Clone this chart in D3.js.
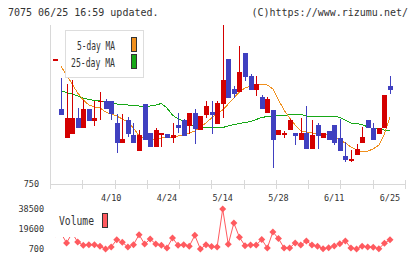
<!DOCTYPE html>
<html>
<head>
<meta charset="utf-8">
<script src="https://cdn.jsdelivr.net/npm/d3@7"></script>
<style>
  body { margin: 0; background: #fff; }
  svg { display: block; }
  text { font-family: "DejaVu Sans Mono", monospace; fill: #333; }
</style>
</head>
<body>
<svg id="chart" width="420" height="259"></svg>
<script>
// daily prices, first entry is the day before the window (only its close shows)
const openP  = [1000, 901, 843, 851, 883, 863, 901, 877, 915, 917, 917, 873, 833, 878, 848, 817, 911, 853, 825, 850, 851,
  843, 868, 878, 867, 893, 858, 888, 895, 870, 910, 1000, 940, 935, 1013, 967, 939, 925, 893, 898, 848,
  848, 859, 853, 839, 853, 820, 868, 843, 856, 868, 843, 806, 799, 809, 833, 878, 863, 851, 863, 946];
const highP  = [1000, 963, 950, 959, 902, 919, 901, 916, 935, 920, 917, 891, 890, 884, 873, 858, 911, 853, 863, 852, 851,
  873, 893, 881, 893, 901, 886, 917, 917, 916, 1068, 1000, 947, 1026, 1013, 970, 966, 928, 925, 898, 859,
  857, 881, 853, 883, 906, 878, 873, 853, 856, 868, 881, 835, 818, 830, 865, 878, 873, 863, 928, 966];
const lowP   = [1000, 888, 843, 851, 863, 863, 877, 867, 878, 901, 878, 813, 833, 845, 833, 817, 839, 825, 825, 825, 843,
  833, 853, 846, 851, 831, 858, 883, 851, 870, 882, 923, 923, 935, 957, 938, 926, 901, 893, 783, 848,
  843, 859, 829, 839, 820, 820, 820, 843, 838, 828, 816, 795, 795, 809, 833, 863, 839, 851, 863, 931];
const closeP = [1000, 888, 883, 883, 863, 901, 877, 883, 917, 901, 891, 833, 840, 851, 833, 848, 839, 825, 859, 852, 843,
  848, 863, 846, 893, 861, 886, 906, 888, 913, 958, 923, 931, 975, 965, 938, 950, 901, 920, 838, 859,
  853, 878, 847, 853, 820, 848, 847, 853, 838, 833, 816, 798, 800, 821, 845, 863, 839, 863, 928, 938];

const ma5  = [null, 985, 968, 950, 932, 918, 908, 904, 902, 894, 890, 886, 880, 874, 862, 846, 842, 840, 840, 842, 844,
  844, 846, 848, 852, 856, 864, 872, 882, 890, 898, 910, 922, 934, 942, 946, 948, 950, 948, 940, 918,
  898, 882, 868, 856, 854, 852, 852, 852, 848, 844, 838, 832, 824, 818, 814, 816, 820, 828, 850, 884];
const ma25 = [null, 936, 933, 930, 926, 922, 919, 917, 916, 914, 912, 910, 909, 908, 907, 906, 906, 906, 908, 911, 902,
  888, 880, 876, 869, 866, 864, 863, 863, 863, 863, 866, 869, 871, 873, 875, 879, 883, 885, 886, 887,
  886, 889, 889, 889, 886, 886, 886, 886, 886, 886, 883, 878, 872, 871, 869, 864, 861, 861, 858, 856];

const volume = [15000, 15800, 6400, 15800, 7300, 4200, 4800, 4800, 3300, 700, 2600, 9500, 7000, 2600, 4800, 14200, 5400,
  10100, 5400, 4200, 1700, 11100, 4200, 4800, 3300, 13600, 700, 4800, 3100, 2600, 38500, 5100, 25300, 11800,
  3800, 4500, 4500, 9700, 1700, 16800, 10600, 1700, 1700, 6400, 4500, 8300, 4500, 3300, 1000, 1900, 3500,
  5600, 8300, 1700, 700, 3300, 2600, 2400, 1000, 6100, 9500];

const dateLabels = ["4/10", "4/24", "5/14", "5/28", "6/11", "6/25"];
const dateIndex = [10, 20, 30, 40, 50, 60];
const priceTicks = [750];
const volTicks = [38500, 19600, 700];

const svg = d3.select("#chart");

const x = d3.scaleLinear().domain([0, openP.length - 1]).range([55.4, 390]);
const y = d3.scaleLinear().domain([750, 1068]).range([184, 25]);
const yv = d3.scaleLinear().domain([700, 38500]).range([249, 209]);
const grid = d3.scaleLinear().domain([0, 11]).range([50, 405]);

const RED = "#d40000", BLUE = "#4040c0";

// header
svg.append("text").attr("x", 8).attr("y", 16).attr("font-size", "10px")
  .text("7075 06/25 16:59 updated.");
svg.append("text").attr("x", 408).attr("y", 16).attr("font-size", "10px")
  .attr("text-anchor", "end")
  .text("(C)https://www.rizumu.net/");

// axes
const axisG = svg.append("g").attr("shape-rendering", "crispEdges");
axisG.append("line").attr("x1", 50.5).attr("x2", 50.5).attr("y1", 25).attr("y2", 189)
  .attr("stroke", "#d8d8d8");
axisG.append("line").attr("x1", 50).attr("x2", 406).attr("y1", 184.5).attr("y2", 184.5)
  .attr("stroke", "#d8d8d8");
axisG.selectAll(".gt").data(d3.range(12)).join("line")
  .attr("x1", d => Math.round(grid(d)) + 0.5).attr("x2", d => Math.round(grid(d)) + 0.5)
  .attr("y1", 180).attr("y2", 189).attr("stroke", "#d8d8d8");

svg.selectAll(".pt").data(priceTicks).join("text")
  .attr("x", 39).attr("y", d => y(d) + 3).attr("text-anchor", "end").attr("font-size", "8.5px")
  .text(d => d);

svg.selectAll(".dl").data(dateLabels).join("text")
  .attr("x", (d, i) => x(dateIndex[i])).attr("y", 200.5).attr("text-anchor", "middle")
  .attr("font-size", "8.5px").text(d => d);

// moving averages
const lineOf = arr => d3.line()
  .defined(d => d != null)
  .x((d, i) => x(i)).y(d => y(d))(arr);

svg.append("path").attr("d", lineOf(ma25)).attr("fill", "none")
  .attr("stroke", "#17a817").attr("stroke-width", 1).attr("shape-rendering", "crispEdges");
svg.append("path").attr("d", lineOf(ma5)).attr("fill", "none")
  .attr("stroke", "#f0901e").attr("stroke-width", 1).attr("shape-rendering", "crispEdges");

// candles
const candles = svg.append("g").attr("shape-rendering", "crispEdges");
const idx = d3.range(openP.length);
const col = i => closeP[i] >= openP[i] ? RED : BLUE;

candles.selectAll(".wick").data(idx).join("line")
  .attr("x1", i => Math.round(x(i)) + 0.5).attr("x2", i => Math.round(x(i)) + 0.5)
  .attr("y1", i => y(highP[i])).attr("y2", i => y(lowP[i]))
  .attr("stroke", col);

candles.selectAll(".body").data(idx).join("rect")
  .attr("x", i => Math.round(x(i)) - 2).attr("width", 5)
  .attr("y", i => y(Math.max(openP[i], closeP[i])))
  .attr("height", i => Math.max(1.5, Math.abs(y(openP[i]) - y(closeP[i]))))
  .attr("fill", col);

// price legend
const leg = svg.append("g");
leg.append("rect").attr("x", 65.5).attr("y", 30.5).attr("width", 78).attr("height", 47)
  .attr("fill", "#fff").attr("stroke", "#ddd");
leg.append("text").attr("x", 77).attr("y", 50).attr("font-size", "11.5px")
  .attr("textLength", 38).attr("lengthAdjust", "spacingAndGlyphs").text("5-day MA");
leg.append("text").attr("x", 71).attr("y", 67).attr("font-size", "11.5px")
  .attr("textLength", 44).attr("lengthAdjust", "spacingAndGlyphs").text("25-day MA");
leg.append("rect").attr("x", 131.5).attr("y", 37.5).attr("width", 5).attr("height", 14)
  .attr("fill", "#f0901e").attr("stroke", "#333");
leg.append("rect").attr("x", 131.5).attr("y", 54.5).attr("width", 5).attr("height", 14)
  .attr("fill", "#17a817").attr("stroke", "#333");

// volume
const VOL = "#ff5a5f";
svg.append("path")
  .attr("d", d3.line().x((d, i) => x(i)).y(d => yv(d))(volume))
  .attr("fill", "none").attr("stroke", VOL).attr("stroke-width", 1);
svg.selectAll(".vm").data(volume).join("path")
  .attr("d", "M0,-3.5L3.5,0L0,3.5L-3.5,0Z")
  .attr("transform", (d, i) => `translate(${x(i)},${yv(d)})`)
  .attr("fill", VOL);

svg.selectAll(".vt").data(volTicks).join("text")
  .attr("x", 44).attr("y", d => yv(d) + 3).attr("text-anchor", "end").attr("font-size", "8.5px")
  .text(d => d);

const vleg = svg.append("g");
vleg.append("rect").attr("x", 51).attr("y", 204).attr("width", 62).attr("height", 33).attr("fill", "#fff");
vleg.append("text").attr("x", 59).attr("y", 225).attr("font-size", "11.5px")
  .attr("textLength", 35).attr("lengthAdjust", "spacingAndGlyphs").text("Volume");
vleg.append("rect").attr("x", 102.5).attr("y", 213.5).attr("width", 5).attr("height", 14)
  .attr("fill", VOL).attr("stroke", "#333");
</script>
</body>
</html>
